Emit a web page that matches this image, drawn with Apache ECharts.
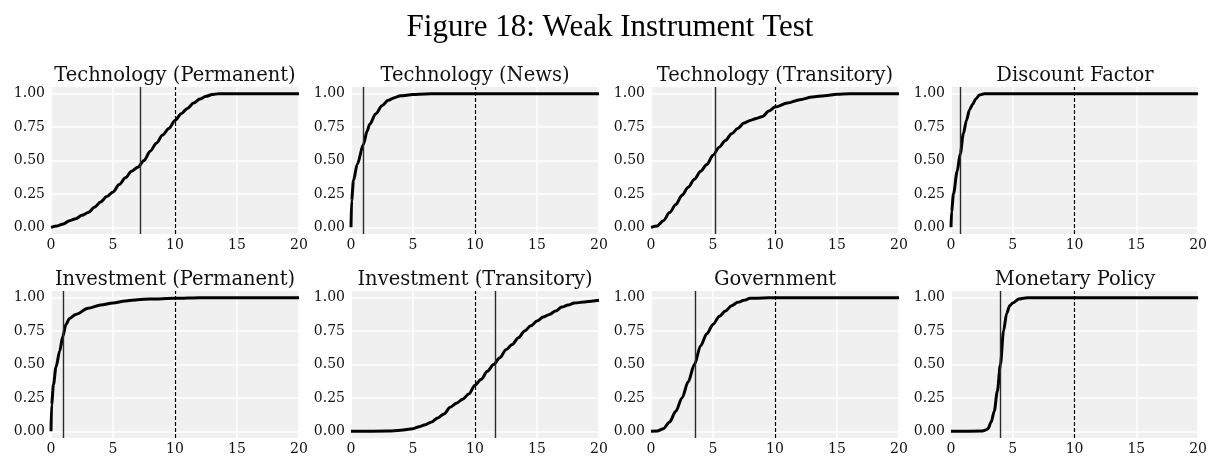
<!DOCTYPE html>
<html>
<head>
<meta charset="utf-8">
<script src="https://cdn.jsdelivr.net/npm/echarts@6/dist/echarts.min.js"></script>
<style>
  html, body { margin: 0; padding: 0; background: #fff; }
  #chart { width: 1210px; height: 457px; }
</style>
</head>
<body>
<div id="chart"></div>
<script>
// figure text
const figureTitle = 'Figure 18: Weak Instrument Test'
const panelTitles = [
  'Technology (Permanent)', 'Technology (News)', 'Technology (Transitory)', 'Discount Factor',
  'Investment (Permanent)', 'Investment (Transitory)', 'Government', 'Monetary Policy',
]
const yTicks = [0, 0.25, 0.5, 0.75, 1]

// vertical lines: observed statistic (solid) and critical value (dashed)
const statValues = [7.2, 1.0, 5.2, 0.75, 0.95, 11.6, 3.6, 3.95]
const criticalValue = 10

const techPermX = [0, 0.5, 1, 1.5, 2, 2.5, 3, 3.5, 4, 4.5, 5, 5.5, 6, 6.5, 7, 7.5, 8, 8.5, 9, 9.5, 10, 10.5, 11, 11.5, 12, 12.5, 13, 13.5, 20]
const techPermY = [0, 0.01, 0.025, 0.05, 0.065, 0.09, 0.11, 0.15, 0.19, 0.23, 0.265, 0.32, 0.37, 0.42, 0.45, 0.5, 0.57, 0.63, 0.69, 0.74, 0.8, 0.85, 0.89, 0.93, 0.96, 0.98, 0.993, 1, 1]
const techNewsX = [0, 0.05, 0.2, 0.5, 1, 1.3, 1.5, 2, 2.5, 3, 3.5, 4, 5, 6, 7, 20]
const techNewsY = [0, 0.2, 0.35, 0.47, 0.62, 0.72, 0.77, 0.85, 0.91, 0.95, 0.97, 0.985, 0.993, 0.998, 1, 1]
const techTranX = [0, 0.5, 1, 1.5, 2, 2.5, 3, 3.5, 4, 4.5, 5, 5.5, 6, 6.5, 7, 7.5, 8, 8.5, 9, 9.5, 10, 11, 12, 13, 14, 15, 16, 20]
const techTranY = [0, 0.01, 0.05, 0.11, 0.17, 0.24, 0.3, 0.36, 0.42, 0.47, 0.54, 0.6, 0.65, 0.7, 0.74, 0.78, 0.8, 0.815, 0.83, 0.87, 0.9, 0.93, 0.955, 0.975, 0.985, 0.995, 1, 1]
const discountX = [0, 0.05, 0.2, 0.5, 0.75, 1, 1.25, 1.5, 1.75, 2, 2.3, 2.7, 20]
const discountY = [0, 0.12, 0.25, 0.42, 0.55, 0.7, 0.8, 0.88, 0.92, 0.96, 0.99, 1, 1]
const invPermX = [0, 0.05, 0.2, 0.4, 0.7, 0.95, 1.2, 1.5, 2, 3, 4, 5, 6, 7, 8, 10, 12, 20]
const invPermY = [0, 0.2, 0.35, 0.48, 0.6, 0.71, 0.8, 0.845, 0.875, 0.92, 0.945, 0.96, 0.975, 0.985, 0.99, 0.995, 1, 1]
const invTranX = [0, 3, 4, 5, 5.5, 6, 6.5, 7, 7.5, 8, 8.5, 9, 9.5, 10, 10.5, 11, 11.5, 12, 12.5, 13, 13.5, 14, 14.5, 15, 15.5, 16, 16.5, 17, 17.5, 18, 19, 20]
const invTranY = [0, 0.002, 0.008, 0.02, 0.035, 0.05, 0.07, 0.1, 0.13, 0.18, 0.21, 0.24, 0.28, 0.345, 0.39, 0.45, 0.5, 0.55, 0.61, 0.65, 0.7, 0.75, 0.79, 0.825, 0.855, 0.875, 0.9, 0.93, 0.945, 0.96, 0.97, 0.98]
const govX = [0, 0.5, 1, 1.5, 2, 2.5, 3, 3.5, 4, 4.5, 5, 5.5, 6, 6.5, 7, 7.5, 8, 9, 10, 20]
const govY = [0, 0.002, 0.02, 0.07, 0.15, 0.25, 0.37, 0.5, 0.64, 0.73, 0.8, 0.86, 0.9, 0.94, 0.965, 0.98, 0.995, 0.998, 1, 1]
const monX = [0, 2.5, 2.8, 3, 3.25, 3.5, 3.75, 4, 4.25, 4.5, 4.75, 5, 5.5, 6, 6.5, 20]
const monY = [0, 0.002, 0.01, 0.02, 0.07, 0.15, 0.3, 0.5, 0.75, 0.88, 0.94, 0.96, 0.99, 0.998, 1, 1]

const panelX = [techPermX, techNewsX, techTranX, discountX, invPermX, invTranX, govX, monX]
const panelY = [techPermY, techNewsY, techTranY, discountY, invPermY, invTranY, govY, monY]

const chart = echarts.init(document.getElementById('chart'))
const font = 'DejaVu Serif'

// layout of the 2x4 panels (px)
const colLeft = [51, 351, 651, 951]
const plotW = 248
const rowTop = [87, 291]
const plotH = 147

const grids = [], xAxes = [], yAxes = [], series = []
const titles = [{
  text: figureTitle,
  left: 605, top: 7, textAlign: 'center',
  textStyle: { fontFamily: 'Liberation Serif', fontSize: 31, fontWeight: 'normal', color: '#000' },
}]

panelTitles.forEach((name, i) => {
  const r = Math.floor(i / 4), c = i % 4
  grids.push({ left: colLeft[c], top: rowTop[r], width: plotW, height: plotH, show: true, backgroundColor: '#f0f0f0', borderWidth: 0 })
  // title padding pushes centred text ~5px right, so pull it back
  titles.push({
    text: name,
    left: colLeft[c] + plotW / 2 - 5, top: rowTop[r] - 26, textAlign: 'center',
    textStyle: { fontFamily: font, fontSize: 19.5, fontWeight: 'normal', color: '#111' },
  })
  xAxes.push({
    gridIndex: i, type: 'value', min: 0, max: 20, interval: 5,
    axisLine: { show: false }, axisTick: { show: false },
    axisLabel: { fontFamily: font, fontSize: 14, color: '#111', margin: 4, showMinLabel: true, showMaxLabel: true },
    splitLine: { show: true, lineStyle: { color: '#fff', width: 1.5 } },
  })
  yAxes.push({
    gridIndex: i, type: 'value', min: -0.05, max: 1.05,
    axisLine: { show: false },
    axisTick: { show: false, customValues: yTicks },
    axisLabel: { fontFamily: font, fontSize: 14, color: '#111', margin: 6, customValues: yTicks, formatter: v => v.toFixed(2) },
    splitLine: { show: true, lineStyle: { color: '#fff', width: 1.5 } },
  })
  series.push({
    type: 'line', xAxisIndex: i, yAxisIndex: i,
    data: panelX[i].map((x, k) => [x, panelY[i][k]]),
    showSymbol: false, smooth: 0.3, smoothMonotone: 'x',
    lineStyle: { color: '#000', width: 3 },
    z: 3,
    markLine: {
      silent: true, symbol: 'none', label: { show: false },
      data: [
        { xAxis: statValues[i], lineStyle: { color: '#2a2a2a', width: 1.4, type: 'solid' } },
        { xAxis: criticalValue, lineStyle: { color: '#000', width: 1.2, type: [4, 2] } },
      ],
    },
  })
})

chart.setOption({
  animation: false,
  backgroundColor: '#fff',
  title: titles,
  grid: grids,
  xAxis: xAxes,
  yAxis: yAxes,
  series,
})
</script>
</body>
</html>
